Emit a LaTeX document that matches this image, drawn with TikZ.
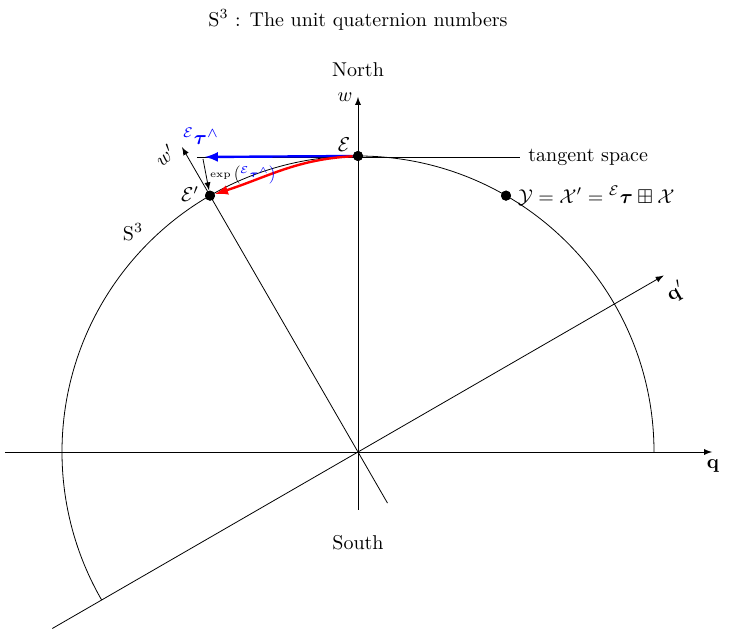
\documentclass[tikz,border=0pt]{standalone}
\usepackage{amsmath,amssymb,bm}
\usetikzlibrary{arrows.meta}
\begin{document}
\begin{tikzpicture}[x=0.5pt,y=0.5pt,>=latex,
  axis/.style={->,thin},
  dot/.style={circle,fill=black,inner sep=0pt,minimum size=5pt},
  lbl/.style={inner sep=1pt}]
\useasboundingbox (-358,-183) rectangle (373,452);
% points
\coordinate (O) at (0,0);
\node[dot] (E) at (90:296) {};
\node[dot] (Ep) at (120:296) {};
\node[dot] (Y) at (60:296) {};
\coordinate (qs) at (-353,0);
\coordinate (qe) at (354,0);
\coordinate (ws) at (0,-58);
\coordinate (we) at (0,355);
\coordinate (qps) at (210:353);
\coordinate (qpe) at (30:353);
\coordinate (wps) at (-60:59);
\coordinate (wpe) at (120:352);
\coordinate (tl) at (-161,295);
\coordinate (tr) at (162,295);
\coordinate (bt) at (-153,295);
\coordinate (pt) at (-155,293);
% arc
\draw (296,0) arc[start angle=0,end angle=210,radius=296];
% axes
\draw[axis] (qs) -- (qe);
\draw[axis] (ws) -- (we);
\draw[axis] (qps) -- (qpe);
\draw[axis] (wps) -- (wpe);
% tangent
\draw (tl) -- (tr);
\node[anchor=west,lbl] (ts) at ([xshift=3]tr) {tangent space};
\draw[->,blue,line width=1.2pt] (E) -- (bt);
\draw[->,red,line width=1.2pt] (E) to[out=183,in=18] (Ep);
\draw[->,thin] (pt) -- (Ep);
% dots on top
\node[dot] at (E) {};
\node[dot] at (Ep) {};
\node[dot] at (Y) {};
% labels
\node (title) at (0,432) {$\mathrm{S}^3$ : The unit quaternion numbers};
\node (north) at (0,382) {North};
\node (south) at (0,-91) {South};
\node (wl) at (-13,355) {$w$};
\node (ql) at (355,-14) {$\mathbf{q}$};
\node[rotate=30] (qpl) at (318,160) {$\mathbf{q}'$};
\node[rotate=40] (wpl) at (-193,297) {$w'$};
\node (El) at (-14,307) {$\mathcal{E}$};
\node (Epl) at (-168,258) {$\mathcal{E}'$};
\node (S3) at (-225,220) {$\mathrm{S}^3$};
\node[anchor=west,lbl] (Yl) at ([xshift=2]Y.east) {$\mathcal{Y}=\mathcal{X}'={}^{\mathcal{E}}\bm{\tau}\boxplus\mathcal{X}$};
\node[blue] (taul) at (-157,316) {${}^{\mathcal{E}}\bm{\tau}^{\wedge}$};
\node[font=\tiny] (expl) at (-115,277) {$\exp\left(\color{blue}{}^{\mathcal{E}}\bm{\tau}^{\wedge}\right)$};
\end{tikzpicture}
\end{document}
